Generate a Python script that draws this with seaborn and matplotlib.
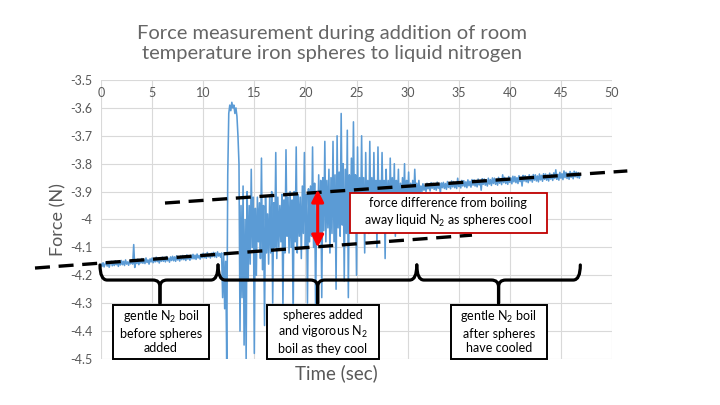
import numpy as np
import pandas as pd
import seaborn as sns
import matplotlib.pyplot as plt
from matplotlib.path import Path
from matplotlib.patches import PathPatch, Rectangle
from matplotlib.ticker import FuncFormatter

# ---- data ----
# gentle boil before spheres (t = 0 .. 11.8, every 0.1 s)
base_start, base_step = 0.0, 0.1
base_force = [
    -4.158, -4.168, -4.155, -4.170, -4.160, -4.152, -4.167, -4.156, -4.171, -4.158,
    -4.150, -4.166, -4.153, -4.165, -4.148, -4.162, -4.155, -4.168, -4.151, -4.163,
    -4.147, -4.162, -4.150, -4.165, -4.145, -4.160, -4.152, -4.164, -4.148, -4.159,
    -4.145, -4.160, -4.090, -4.172, -4.146, -4.158, -4.142, -4.162, -4.148, -4.156,
    -4.140, -4.157, -4.143, -4.158, -4.138, -4.154, -4.145, -4.160, -4.141, -4.152,
    -4.138, -4.155, -4.140, -4.152, -4.135, -4.151, -4.142, -4.156, -4.137, -4.150,
    -4.135, -4.150, -4.137, -4.152, -4.133, -4.148, -4.139, -4.153, -4.134, -4.147,
    -4.132, -4.148, -4.134, -4.150, -4.130, -4.145, -4.136, -4.149, -4.131, -4.144,
    -4.129, -4.144, -4.131, -4.147, -4.127, -4.142, -4.133, -4.146, -4.128, -4.141,
    -4.125, -4.141, -4.128, -4.143, -4.124, -4.138, -4.129, -4.142, -4.125, -4.137,
    -4.121, -4.137, -4.124, -4.139, -4.118, -4.134, -4.125, -4.138, -4.121, -4.133,
    -4.118, -4.134, -4.120, -4.136, -4.116, -4.131, -4.122, -4.135, -4.120,
]
# spheres dropped in (t = 11.9 .. 13.4, every 0.1 s)
drop_start, drop_step = 11.9, 0.1
drop_force = [
    -4.28, -4.12, -4.32, -4.15, -4.50, -3.84, -3.62, -3.59,
    -3.61, -3.58, -3.60, -3.59, -3.62, -3.60, -3.63, -3.70,
]
# vigorous boil (t = 13.5 .. 31.4, every 0.1 s)
boil_start, boil_step = 13.5, 0.1
boil_force = [
    -3.80, -4.40, -3.95, -4.28, -3.88, -4.45, -4.00, -4.50, -3.90, -4.22,
    -3.95, -4.16, -3.82, -4.10, -3.92, -4.48, -3.96, -4.20, -3.92, -4.08,
    -3.94, -4.14, -3.78, -4.18, -3.95, -4.38, -3.92, -4.12, -3.98, -4.16,
    -3.92, -4.12, -3.90, -4.30, -3.94, -4.10, -3.76, -4.14, -3.92, -4.10,
    -3.95, -4.08, -3.91, -4.32, -3.93, -4.12, -3.75, -4.06, -3.92, -4.12,
    -3.90, -4.10, -3.93, -4.36, -3.90, -4.08, -3.74, -4.12, -3.91, -4.06,
    -3.92, -4.14, -3.88, -4.05, -3.76, -4.10, -3.91, -4.30, -3.89, -4.08,
    -3.88, -4.06, -3.74, -4.10, -3.87, -4.34, -3.90, -4.05, -3.84, -4.08,
    -3.86, -4.28, -3.85, -4.04, -3.72, -4.08, -3.86, -4.03, -3.82, -4.12,
    -3.85, -4.05, -3.72, -4.08, -3.84, -4.25, -3.70, -4.03, -3.83, -4.06,
    -3.62, -4.02, -3.80, -4.22, -3.82, -4.05, -3.68, -4.28, -3.84, -4.04,
    -3.78, -4.03, -3.65, -4.00, -3.84, -4.20, -3.74, -4.04, -3.85, -4.01,
    -3.70, -4.01, -3.85, -4.12, -3.76, -4.00, -3.86, -4.05, -3.72, -4.01,
    -3.85, -4.03, -3.76, -3.98, -3.86, -4.10, -3.74, -4.01, -3.86, -3.99,
    -3.76, -3.98, -3.86, -4.14, -3.82, -3.99, -3.86, -4.03, -3.78, -3.97,
    -3.85, -3.97, -3.80, -4.06, -3.86, -3.96, -3.82, -3.99, -3.87, -3.95,
    -3.85, -3.96, -3.80, -4.04, -3.86, -3.94, -3.83, -3.97, -3.87, -3.93,
    -3.86, -3.93, -3.82, -3.92, -3.87, -3.92, -3.86, -3.91, -3.88, -3.90,
]
# gentle boil after spheres cooled (t = 31.5 .. 46.9, every 0.1 s)
tail_start, tail_step = 31.5, 0.1
tail_force = [
    -3.872, -3.895, -3.878, -3.900, -3.870, -3.890, -3.876, -3.898, -3.868, -3.888,
    -3.870, -3.892, -3.874, -3.895, -3.866, -3.888, -3.872, -3.905, -3.869, -3.886,
    -3.867, -3.889, -3.871, -3.892, -3.864, -3.885, -3.870, -3.890, -3.862, -3.883,
    -3.864, -3.886, -3.868, -3.889, -3.852, -3.882, -3.866, -3.887, -3.860, -3.880,
    -3.861, -3.883, -3.865, -3.886, -3.858, -3.879, -3.863, -3.884, -3.857, -3.877,
    -3.858, -3.880, -3.862, -3.883, -3.855, -3.876, -3.860, -3.895, -3.854, -3.874,
    -3.855, -3.877, -3.859, -3.880, -3.852, -3.873, -3.857, -3.878, -3.851, -3.871,
    -3.852, -3.874, -3.856, -3.877, -3.849, -3.870, -3.854, -3.875, -3.840, -3.868,
    -3.849, -3.871, -3.853, -3.874, -3.846, -3.867, -3.851, -3.872, -3.845, -3.865,
    -3.846, -3.868, -3.850, -3.871, -3.843, -3.864, -3.848, -3.880, -3.842, -3.862,
    -3.843, -3.865, -3.847, -3.868, -3.840, -3.861, -3.845, -3.866, -3.839, -3.859,
    -3.840, -3.862, -3.844, -3.865, -3.837, -3.858, -3.842, -3.863, -3.836, -3.856,
    -3.837, -3.859, -3.841, -3.862, -3.834, -3.855, -3.839, -3.860, -3.833, -3.853,
    -3.822, -3.856, -3.838, -3.859, -3.831, -3.852, -3.836, -3.857, -3.826, -3.850,
    -3.831, -3.853, -3.835, -3.856, -3.828, -3.849, -3.833, -3.854, -3.827, -3.847,
    -3.830, -3.850, -3.832, -3.852, -3.836,
]

# hand-drawn guide lines (time, force)
upper_fit_t = [6.26, 51.5]
upper_fit_f = [-3.941, -3.826]
lower_fit_t = [-6.46, 36.3]
lower_fit_f = [-4.174, -4.056]

# phase braces: (start, end, tip) in seconds, and their label boxes
brace_spans = [(-0.1, 11.45, 5.77), (11.45, 30.9, 21.2), (30.9, 46.9, 38.9)]
phase_boxes = [(1.17, 10.57), (16.25, 27.2), (34.25, 43.6)]
phase_labels = [
    "gentle N$_{\\mathrm{2}}$ boil\nbefore spheres\nadded",
    "spheres added\nand vigorous N$_{\\mathrm{2}}$\nboil as they cool",
    "gentle N$_{\\mathrm{2}}$ boil\nafter spheres\nhave cooled",
]
diff_label = "force difference from boiling\naway liquid N$_{\\mathrm{2}}$ as spheres cool"


def seg(start, step, vals):
    t = start + step * np.arange(len(vals))
    return pd.DataFrame({"time": np.round(t, 3), "force": vals})


df = pd.concat([
    seg(base_start, base_step, base_force),
    seg(drop_start, drop_step, drop_force),
    seg(boil_start, boil_step, boil_force),
    seg(tail_start, tail_step, tail_force),
], ignore_index=True)

sns.set_theme(style="white")
plt.rcParams["font.family"] = ["Lato", "DejaVu Sans"]
plt.rcParams["mathtext.fontset"] = "custom"
plt.rcParams["mathtext.rm"] = "Lato"
plt.rcParams["mathtext.it"] = "Lato:italic"
plt.rcParams["axes.unicode_minus"] = False

gray = "#595959"
fig = plt.figure(figsize=(7.2, 4.05), dpi=100)
ax = fig.add_axes([0.1403, 0.1136, 0.7097, 0.6889])

sns.lineplot(data=df, x="time", y="force", ax=ax, color="#5b9bd5",
             linewidth=1.15, estimator=None, sort=False, zorder=2)

ax.set_xlim(0, 50)
ax.set_ylim(-4.5, -3.5)
ax.set_xticks(np.arange(0, 51, 5))
ax.set_yticks(np.round(np.arange(-4.5, -3.45, 0.1), 1))
ax.yaxis.set_major_formatter(FuncFormatter(lambda v, p: f"{v:g}"))
ax.grid(True, color="#d9d9d9", linewidth=0.8)
for s in ax.spines.values():
    s.set_visible(False)
ax.xaxis.tick_top()
ax.tick_params(axis="x", top=False, labeltop=True, bottom=False, labelbottom=False,
               pad=-13.5, labelsize=9, labelcolor=gray, length=0)
ax.tick_params(axis="y", length=0, pad=6, labelsize=9, labelcolor=gray)
ax.set_xlabel("")
ax.set_ylabel("")

title_color = "#666666"
fig.text(332 / 720, 1 - 33 / 405, "Force measurement during addition of room",
         ha="center", va="center", fontsize=14.5, color=title_color)
fig.text(332 / 720, 1 - 54 / 405, "temperature iron spheres to liquid nitrogen",
         ha="center", va="center", fontsize=14.5, color=title_color)
fig.text(58 / 720, 1 - 220 / 405, "Force (N)", rotation=90, ha="center", va="center",
         fontsize=13, color=gray)
fig.text(336 / 720, 1 - 373 / 405, "Time (sec)", ha="center", va="center",
         fontsize=13.5, color=gray)

dash = (0, (4.5, 2.6))
ax.plot(upper_fit_t, upper_fit_f, color="black", lw=2.4, linestyle=dash,
        clip_on=False, zorder=4)
ax.plot(lower_fit_t, lower_fit_f, color="black", lw=2.4, linestyle=dash,
        clip_on=False, zorder=4)

# red double arrow between the two guide lines
ax.annotate("", xy=(21.2, -3.893), xytext=(21.2, -4.100),
            arrowprops=dict(arrowstyle="<|-|>,head_length=0.6,head_width=0.3",
                            color="#ff0000", lw=2.2, shrinkA=0, shrinkB=0), zorder=5)

ax.add_patch(Rectangle((24.36, -4.048), 43.6 - 24.36, 0.143, facecolor="white",
                       edgecolor="#c00000", lw=1.3, zorder=5, clip_on=False))
ax.text((24.36 + 43.6) / 2, -3.976, diff_label, ha="center", va="center",
        fontsize=9, color="black", linespacing=1.3, zorder=6)

# braces
ytop, yh, ytip = -4.163, -4.217, -4.300
dx, dd = 0.7, 0.025
for x0, x1, xm in brace_spans:
    for xe, sgn in ((x0, 1), (x1, -1)):
        verts = [(xe, ytop), (xe, yh), (xe + sgn * dx, yh),
                 (xm - sgn * dx, yh), (xm, yh), (xm, yh - dd), (xm, ytip)]
        codes = [Path.MOVETO, Path.CURVE3, Path.CURVE3, Path.LINETO,
                 Path.CURVE3, Path.CURVE3, Path.LINETO]
        ax.add_patch(PathPatch(Path(verts, codes), facecolor="none",
                               edgecolor="black", lw=2.3, zorder=4,
                               capstyle="round", clip_on=False))

for (b0, b1), lab in zip(phase_boxes, phase_labels):
    ax.add_patch(Rectangle((b0, -4.5), b1 - b0, 0.194, facecolor="white",
                           edgecolor="black", lw=1.4, zorder=5, clip_on=False))
    ax.text((b0 + b1) / 2, -4.403, lab, ha="center", va="center", fontsize=9,
            color="black", linespacing=1.25, zorder=6)

fig.savefig("out.png", dpi=100)
